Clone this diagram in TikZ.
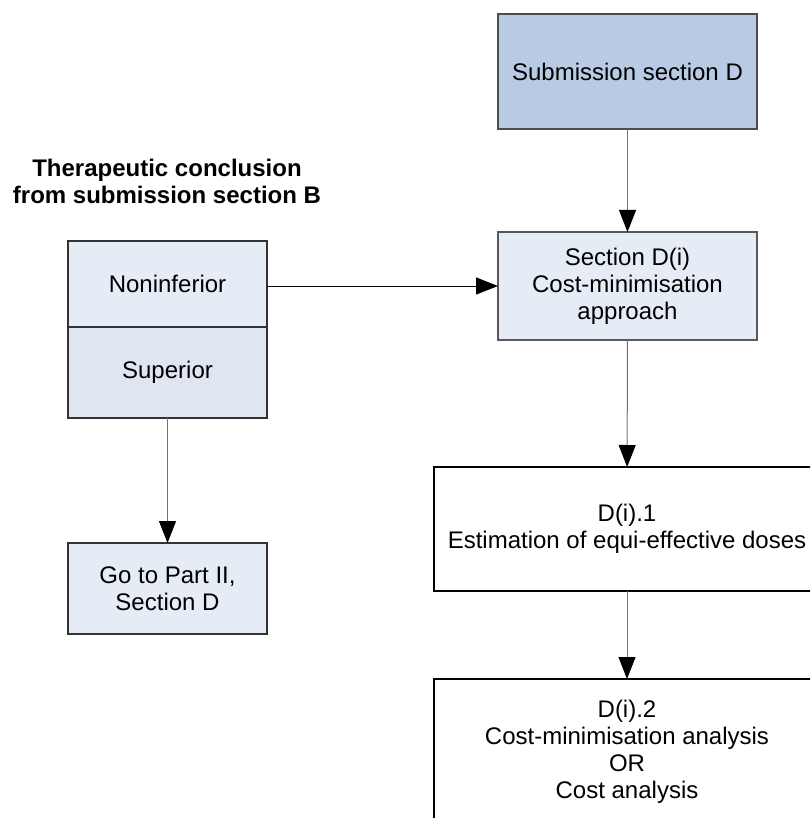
\documentclass[tikz,border=0pt]{standalone}
\usepackage{fontspec}
\setmainfont{Liberation Sans}
\definecolor{subblue}{RGB}{184, 202, 228}
\definecolor{paleblue}{RGB}{230, 236, 246}
\definecolor{greyblue}{RGB}{224, 230, 241}
\usetikzlibrary{arrows.meta, positioning}

\begin{document}
\begin{tikzpicture}[
  x=0.5pt, y=-0.5pt,
  every node/.style={font=\fontsize{12}{13.5}\selectfont, align=center, inner sep=0pt, outer sep=0pt},
  fbox/.style={draw=black!80, line width=0.75pt, fill=paleblue},
  arr/.style={draw=black!55, line width=0.5pt, -{Triangle[length=11pt, width=8.5pt, color=black]}}
]
  \useasboundingbox (0,0) rectangle (810,818);
  \clip (0,0) rectangle (810,818);

  % left column
  \node[font=\fontsize{12}{13.5}\selectfont\bfseries] (title) at (167, 181) {Therapeutic conclusion\\from submission section B};
  \node[fbox, minimum width=99.5pt, minimum height=43pt] (noninf) at (167.5, 284) {Noninferior};
  \node[fbox, fill=greyblue, minimum width=99.5pt, minimum height=45.5pt] (superior) at (167.5, 372.5) {Superior};
  \node[fbox, minimum width=99.5pt, minimum height=45.5pt] (gotoII) at (167.5, 588.5) {Go to Part II,\\Section D};

  % right column
  \node[fbox, fill=subblue, draw=black!70, minimum width=129.5pt, minimum height=57.5pt] (subD) at (627.5, 71.5) {Submission section D};
  \node[fbox, draw=black!65, minimum width=129.5pt, minimum height=54pt] (secDi) at (627.5, 286) {Section D(i)\\Cost-minimisation\\approach};
  \node[fbox, fill=white, draw=black, minimum width=193pt, minimum height=62pt] (dione) at (627, 529) {D(i).1\\Estimation of equi-effective doses};
  \node[fbox, fill=white, draw=black, minimum width=193pt, minimum height=73pt] (ditwo) at (627, 752) {D(i).2\\Cost-minimisation analysis\\OR\\Cost analysis};

  % connectors
  \draw[arr] (subD) -- (secDi);
  \draw[arr, draw=black] (secDi.west -| noninf.east) -- (secDi.west);
  \draw[arr] (secDi) -- (dione);
  \draw[arr] (dione) -- (ditwo);
  \draw[arr] (superior) -- (gotoII);
\end{tikzpicture}
\end{document}
